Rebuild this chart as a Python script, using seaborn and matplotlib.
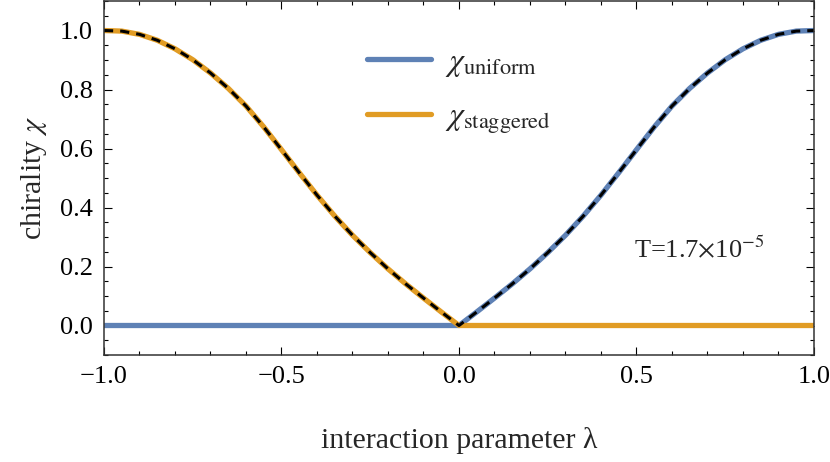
"""
手征性随相互作用参数变化的曲线
"""

import numpy as np
import pandas as pd
import matplotlib
matplotlib.use("Agg")
import matplotlib.pyplot as plt
from matplotlib.ticker import MultipleLocator
import seaborn as sns

# 数据 (|λ| 与对应的手征性, 曲线关于 λ=0 对称)
lam_pos = [0.00, 0.05, 0.10, 0.15, 0.20, 0.25, 0.30, 0.35, 0.40, 0.45, 0.50,
           0.55, 0.60, 0.65, 0.70, 0.75, 0.80, 0.85, 0.90, 0.95, 1.00]
chi_pos = [0.000, 0.046, 0.093, 0.141, 0.192, 0.247, 0.306, 0.371, 0.442, 0.518, 0.596,
           0.673, 0.744, 0.804, 0.856, 0.901, 0.938, 0.967, 0.987, 0.998, 1.000]
zeros = [0.0] * len(lam_pos)

label_uniform = r"$\chi_{\rm uniform}$"
label_staggered = r"$\chi_{\rm staggered}$"
temp_text = r"T=1.7$\times$10$^{-5}$"
x_ticks = [-1.0, -0.5, 0.0, 0.5, 1.0]
y_ticks = [0.0, 0.2, 0.4, 0.6, 0.8, 1.0]

BLUE = "#5e81b5"
ORANGE = "#e19c24"


def build_data():
    """构造均匀/交错手征性数据表"""
    lam = np.concatenate([-np.array(lam_pos[::-1]), np.array(lam_pos[1:])])
    uniform = np.concatenate([zeros, chi_pos[1:]])
    staggered = np.concatenate([chi_pos[::-1], zeros[1:]])
    df = pd.DataFrame({"lam": lam, "uniform": uniform, "staggered": staggered})
    df["total"] = df[["uniform", "staggered"]].max(axis=1)
    return df


def main():
    df = build_data()

    sns.set_theme(style="ticks")
    plt.rcParams["font.family"] = ["Liberation Serif", "DejaVu Serif"]
    plt.rcParams["mathtext.fontset"] = "stix"
    plt.rcParams["axes.linewidth"] = 1.1

    fig = plt.figure(figsize=(8.3, 4.62), dpi=100)
    ax = fig.add_axes([0.1253, 0.2316, 0.8554, 0.7662])

    sns.lineplot(data=df, x="lam", y="uniform", ax=ax, color=BLUE, lw=3.8,
                 label=label_uniform, sort=False)
    sns.lineplot(data=df, x="lam", y="staggered", ax=ax, color=ORANGE, lw=3.8,
                 label=label_staggered, sort=False)
    sns.lineplot(data=df, x="lam", y="total", ax=ax, color="black", lw=2.2,
                 linestyle=(0, (3.0, 2.3)), sort=False, legend=False)

    ax.set_xlim(-1.0, 1.0)
    ax.set_ylim(-0.1, 1.1)
    ax.set_xticks(x_ticks)
    ax.set_yticks(y_ticks)
    ax.set_xticklabels([f"{v:.1f}".replace("-", "\u2212") for v in x_ticks])
    ax.set_yticklabels([f"{v:.1f}" for v in y_ticks])
    ax.xaxis.set_minor_locator(MultipleLocator(0.1))
    ax.yaxis.set_minor_locator(MultipleLocator(0.05))
    ax.tick_params(which="both", direction="in", top=True, right=True,
                   width=0.8, labelsize=19, colors="black")
    ax.tick_params(which="major", length=5.5, pad=8)
    ax.tick_params(which="minor", length=3)
    for sp in ax.spines.values():
        sp.set_color("#333333")

    ax.set_xlabel("interaction parameter λ", fontsize=21.5, labelpad=28)
    ax.set_ylabel(r"chirality $\chi$", fontsize=21.5, labelpad=8)

    ax.text(0.838, 0.30, temp_text, transform=ax.transAxes, fontsize=19,
            ha="center", va="center")

    ax.legend(loc="upper left", bbox_to_anchor=(0.352, 0.905), frameon=False,
              fontsize=23, handlelength=2.0, handletextpad=0.45, labelspacing=0.75,
              borderaxespad=0)

    fig.savefig("out.png", dpi=100)
    plt.close(fig)


if __name__ == "__main__":
    main()
